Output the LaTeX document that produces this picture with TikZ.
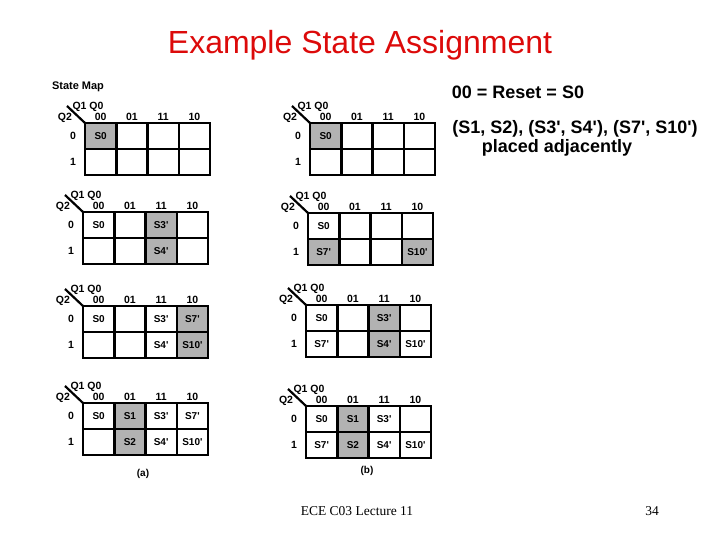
\documentclass[tikz,border=0pt]{standalone}
\usepackage{fontspec}
\setmainfont{Liberation Sans}
\newfontfamily\slidefoot{Liberation Serif}
\usepackage{xcolor}
\definecolor{titlered}{RGB}{220,10,10}
\newcommand{\stq}{\textquotesingle}

\begin{document}
\begin{tikzpicture}[x=1pt, y=-1pt,
    every node/.style={inner sep=0pt},
    lbl/.style={font=\fontsize{10.5}{12}\selectfont\bfseries},
    cell/.style={rectangle, draw, line width=2.5pt,
        minimum width=31.25pt, minimum height=26pt},
    state/.style={font=\fontsize{10}{12}\selectfont\bfseries},
    marked/.style={cell, fill=black!30, font=\fontsize{10}{12}\selectfont\bfseries},
    statemap/.pic={
        \draw[line width=2.2pt] (-18,-17) -- (0,0);
        \node[lbl] (-q1q0) at (3,-16) {Q1 Q0};
        \node[lbl] (-q2) at (-20,-5) {Q2};
        \foreach \col [count=\i from 0] in {00,01,11,10} {
            \node[lbl] (-h\col) at (15.6+31.25*\i,-6) {\col};
            \foreach \row in {0,1}
                \node[cell] (-c\col-\row) at (15.625+31.25*\i,13+26*\row) {};
        }
        \node[lbl] (-r0) at (-12,13) {0};
        \node[lbl] (-r1) at (-12,39) {1};
    }
]
    \useasboundingbox (0,0) rectangle (720,540);
    \node[font=\fontsize{32}{38}\selectfont, text=titlered] (title) at (360,45) {Example State Assignment};
    \node[font=\fontsize{11}{13}\selectfont\bfseries] (mapname) at (78,87) {State Map};
    \node[font=\fontsize{18}{21}\selectfont\bfseries] (reset) at (518,92) {00 = Reset = S0};
    \node[font=\fontsize{18}{21}\selectfont\bfseries] (pairs) at (575,129) {(S1, S2), (S3\stq, S4\stq), (S7\stq, S10\stq)};
    \node[font=\fontsize{18}{21}\selectfont\bfseries] (adjacent) at (557,148) {placed adjacently};

    % left column
    \pic (a1) at (85,123) {statemap};
    \node[marked] (a1s0) at (a1-c00-0) {S0};

    \pic (a2) at (83,212) {statemap};
    \node[state] (a2s0) at (a2-c00-0) {S0};
    \node[marked] (a2s3) at (a2-c11-0) {S3\stq};
    \node[marked] (a2s4) at (a2-c11-1) {S4\stq};

    \pic (a3) at (83,306) {statemap};
    \node[state] (a3s0) at (a3-c00-0) {S0};
    \node[state] (a3s3) at (a3-c11-0) {S3\stq};
    \node[state] (a3s4) at (a3-c11-1) {S4\stq};
    \node[marked] (a3s7) at (a3-c10-0) {S7\stq};
    \node[marked] (a3s10) at (a3-c10-1) {S10\stq};

    \pic (a4) at (83,403) {statemap};
    \node[state] (a4s0) at (a4-c00-0) {S0};
    \node[marked] (a4s1) at (a4-c01-0) {S1};
    \node[marked] (a4s2) at (a4-c01-1) {S2};
    \node[state] (a4s3) at (a4-c11-0) {S3\stq};
    \node[state] (a4s4) at (a4-c11-1) {S4\stq};
    \node[state] (a4s7) at (a4-c10-0) {S7\stq};
    \node[state] (a4s10) at (a4-c10-1) {S10\stq};
    \node[state] (capa) at (143,474) {(a)};

    % right column
    \pic (b1) at (310,123) {statemap};
    \node[marked] (b1s0) at (b1-c00-0) {S0};

    \pic (b2) at (308,213) {statemap};
    \node[state] (b2s0) at (b2-c00-0) {S0};
    \node[marked] (b2s7) at (b2-c00-1) {S7\stq};
    \node[marked] (b2s10) at (b2-c10-1) {S10\stq};

    \pic (b3) at (306,305) {statemap};
    \node[state] (b3s0) at (b3-c00-0) {S0};
    \node[state] (b3s7) at (b3-c00-1) {S7\stq};
    \node[marked] (b3s3) at (b3-c11-0) {S3\stq};
    \node[marked] (b3s4) at (b3-c11-1) {S4\stq};
    \node[state] (b3s10) at (b3-c10-1) {S10\stq};

    \pic (b4) at (306,406) {statemap};
    \node[state] (b4s0) at (b4-c00-0) {S0};
    \node[state] (b4s7) at (b4-c00-1) {S7\stq};
    \node[marked] (b4s1) at (b4-c01-0) {S1};
    \node[marked] (b4s2) at (b4-c01-1) {S2};
    \node[state] (b4s3) at (b4-c11-0) {S3\stq};
    \node[state] (b4s4) at (b4-c11-1) {S4\stq};
    \node[state] (b4s10) at (b4-c10-1) {S10\stq};
    \node[state] (capb) at (367,471) {(b)};

    \node[font=\fontsize{13.5}{16}\selectfont\slidefoot] (lecture) at (357,511) {ECE C03 Lecture 11};
    \node[font=\fontsize{13.5}{16}\selectfont\slidefoot] (pageno) at (652,511) {34};
\end{tikzpicture}
\end{document}
